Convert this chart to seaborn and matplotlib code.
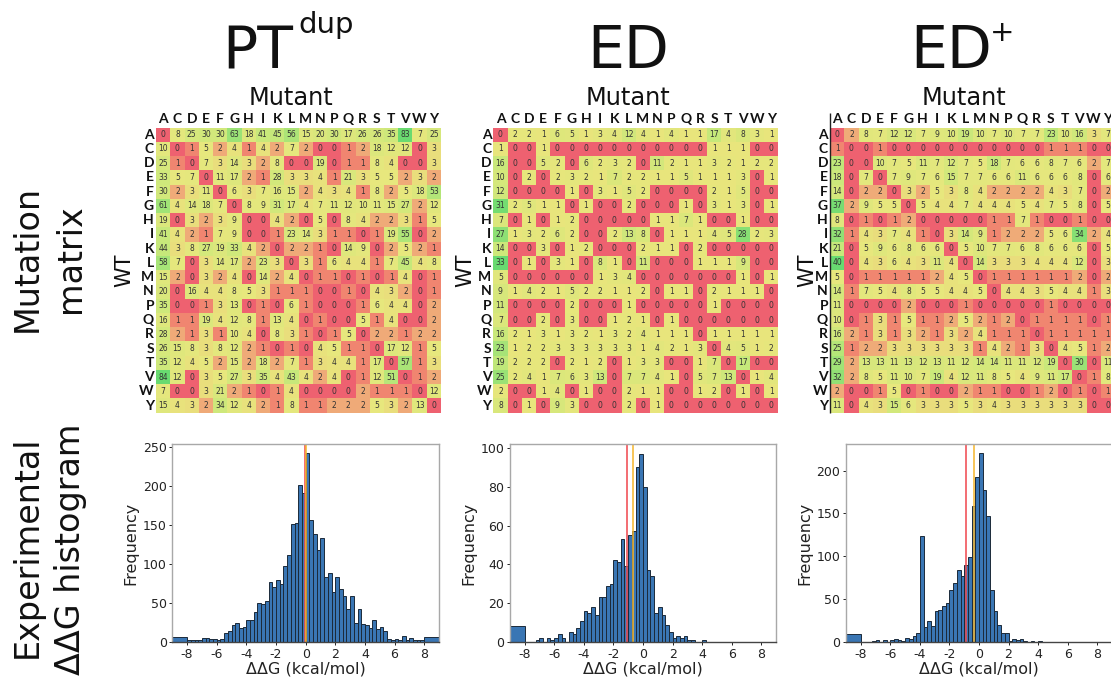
import numpy as np
import seaborn as sns
import matplotlib
matplotlib.use('Agg')
import matplotlib.pyplot as plt
from matplotlib.colors import LinearSegmentedColormap

amino = list('ACDEFGHIKLMNPQRSTVWY')

pt_matrix = [
    [0, 8, 25, 30, 30, 63, 18, 41, 45, 56, 15, 20, 30, 17, 26, 26, 35, 83, 7, 25],
    [10, 0, 1, 5, 2, 4, 1, 4, 2, 7, 2, 0, 0, 1, 2, 18, 12, 12, 0, 3],
    [25, 1, 0, 7, 3, 14, 3, 2, 8, 0, 0, 19, 0, 1, 1, 8, 4, 0, 0, 3],
    [33, 5, 7, 0, 11, 17, 2, 1, 28, 3, 3, 4, 1, 21, 3, 5, 5, 2, 3, 2],
    [30, 2, 3, 11, 0, 6, 3, 7, 16, 15, 2, 4, 3, 4, 1, 8, 2, 5, 18, 53],
    [61, 4, 14, 18, 7, 0, 8, 9, 31, 17, 4, 7, 11, 12, 10, 11, 15, 27, 2, 12],
    [19, 0, 3, 2, 3, 9, 0, 0, 4, 2, 0, 5, 0, 8, 4, 2, 2, 3, 1, 5],
    [41, 4, 2, 1, 7, 9, 0, 0, 1, 23, 14, 3, 1, 1, 0, 1, 19, 55, 0, 2],
    [44, 3, 8, 27, 19, 33, 4, 2, 0, 2, 2, 1, 0, 14, 9, 0, 2, 5, 2, 1],
    [58, 7, 0, 3, 14, 17, 2, 23, 3, 0, 3, 1, 6, 4, 4, 1, 7, 45, 4, 8],
    [15, 2, 0, 3, 2, 4, 0, 14, 2, 4, 0, 1, 1, 0, 1, 0, 1, 4, 0, 1],
    [20, 0, 16, 4, 4, 8, 5, 3, 1, 1, 1, 0, 0, 1, 0, 4, 3, 2, 0, 1],
    [35, 0, 0, 1, 3, 13, 0, 1, 0, 6, 1, 0, 0, 0, 1, 6, 4, 4, 0, 2],
    [16, 1, 1, 19, 4, 12, 8, 1, 13, 4, 0, 1, 0, 0, 5, 1, 4, 0, 0, 2],
    [28, 2, 1, 3, 1, 10, 4, 0, 8, 3, 1, 0, 1, 5, 0, 2, 2, 1, 2, 2],
    [26, 15, 8, 3, 8, 12, 2, 1, 0, 1, 0, 4, 5, 1, 1, 0, 17, 12, 1, 5],
    [35, 12, 4, 5, 2, 15, 2, 18, 2, 7, 1, 3, 4, 4, 1, 17, 0, 57, 1, 3],
    [84, 12, 0, 3, 5, 27, 3, 35, 4, 43, 4, 2, 4, 0, 1, 12, 51, 0, 1, 2],
    [7, 0, 0, 3, 21, 2, 1, 0, 1, 4, 0, 0, 0, 0, 2, 1, 1, 1, 0, 12],
    [15, 4, 3, 2, 34, 12, 4, 2, 1, 8, 1, 1, 2, 2, 2, 5, 3, 2, 13, 0],
]

ed_matrix = [
    [0, 2, 2, 1, 6, 5, 1, 3, 4, 12, 4, 1, 4, 1, 1, 17, 4, 8, 3, 1],
    [1, 0, 0, 1, 0, 0, 0, 0, 0, 0, 0, 0, 0, 0, 0, 1, 1, 1, 0, 0],
    [16, 0, 0, 5, 2, 0, 6, 2, 3, 2, 0, 11, 2, 1, 1, 3, 2, 1, 2, 2],
    [10, 0, 2, 0, 2, 3, 2, 1, 7, 2, 2, 1, 1, 5, 1, 1, 1, 3, 0, 1],
    [12, 0, 0, 0, 0, 1, 0, 3, 1, 5, 2, 0, 0, 0, 0, 2, 1, 5, 0, 0],
    [31, 2, 5, 1, 1, 0, 1, 0, 0, 2, 0, 0, 0, 1, 0, 3, 1, 3, 0, 1],
    [7, 0, 1, 0, 1, 2, 0, 0, 0, 0, 0, 1, 1, 7, 1, 0, 0, 1, 0, 0],
    [27, 1, 3, 2, 6, 2, 0, 0, 2, 13, 8, 0, 1, 1, 1, 4, 5, 28, 2, 3],
    [14, 0, 0, 3, 0, 1, 2, 0, 0, 0, 2, 1, 1, 0, 2, 0, 0, 0, 0, 0],
    [33, 0, 1, 0, 3, 1, 0, 8, 1, 0, 11, 0, 0, 0, 1, 1, 1, 9, 0, 0],
    [5, 0, 0, 0, 0, 0, 0, 1, 3, 4, 0, 0, 0, 0, 0, 0, 0, 1, 0, 1],
    [9, 1, 4, 2, 1, 5, 2, 2, 1, 1, 2, 0, 1, 1, 0, 2, 1, 1, 1, 0],
    [11, 0, 0, 0, 0, 2, 0, 0, 0, 1, 0, 0, 0, 0, 0, 1, 0, 0, 0, 0],
    [7, 0, 0, 2, 0, 3, 0, 0, 1, 2, 1, 0, 1, 0, 0, 0, 0, 0, 0, 0],
    [16, 2, 1, 3, 1, 3, 2, 1, 3, 2, 4, 1, 1, 1, 0, 1, 1, 1, 1, 1],
    [23, 1, 2, 2, 3, 3, 3, 3, 3, 3, 1, 4, 2, 1, 3, 0, 4, 5, 1, 2],
    [19, 2, 2, 2, 0, 2, 1, 2, 0, 1, 3, 3, 0, 0, 1, 7, 0, 17, 0, 0],
    [25, 2, 4, 1, 7, 6, 3, 13, 0, 7, 7, 4, 1, 0, 5, 7, 13, 0, 1, 4],
    [2, 0, 0, 1, 4, 0, 1, 0, 0, 2, 1, 1, 0, 0, 1, 2, 0, 1, 0, 1],
    [8, 0, 1, 0, 9, 3, 0, 0, 0, 2, 0, 1, 0, 0, 0, 0, 0, 0, 0, 0],
]

edplus_matrix = [
    [0, 2, 8, 7, 12, 12, 7, 9, 10, 19, 10, 7, 10, 7, 7, 23, 10, 16, 3, 7],
    [1, 0, 0, 1, 0, 0, 0, 0, 0, 0, 0, 0, 0, 0, 0, 1, 1, 1, 0, 0],
    [23, 0, 0, 10, 7, 5, 11, 7, 12, 7, 5, 18, 7, 6, 6, 8, 7, 6, 2, 7],
    [18, 0, 7, 0, 7, 9, 7, 6, 15, 7, 7, 6, 6, 11, 6, 6, 6, 8, 0, 6],
    [14, 0, 2, 2, 0, 3, 2, 5, 3, 8, 4, 2, 2, 2, 2, 4, 3, 7, 0, 2],
    [37, 2, 9, 5, 5, 0, 5, 4, 4, 7, 4, 4, 4, 5, 4, 7, 5, 8, 0, 5],
    [8, 0, 1, 0, 1, 2, 0, 0, 0, 0, 0, 1, 1, 7, 1, 0, 0, 1, 0, 0],
    [32, 1, 4, 3, 7, 4, 1, 0, 3, 14, 9, 1, 2, 2, 2, 5, 6, 34, 2, 4],
    [21, 0, 5, 9, 6, 8, 6, 6, 0, 5, 10, 7, 7, 6, 8, 6, 6, 6, 0, 5],
    [40, 0, 4, 3, 6, 4, 3, 11, 4, 0, 14, 3, 3, 3, 4, 4, 4, 12, 0, 3],
    [5, 0, 1, 1, 1, 1, 1, 2, 4, 5, 0, 1, 1, 1, 1, 1, 1, 2, 0, 2],
    [14, 1, 7, 5, 4, 8, 5, 5, 4, 4, 5, 0, 4, 4, 3, 5, 4, 4, 1, 3],
    [11, 0, 0, 0, 0, 2, 0, 0, 0, 1, 0, 0, 0, 0, 0, 1, 0, 0, 0, 0],
    [10, 0, 1, 3, 1, 5, 1, 1, 2, 5, 2, 1, 2, 0, 1, 1, 1, 1, 0, 1],
    [16, 2, 1, 3, 1, 3, 2, 1, 3, 2, 4, 1, 1, 1, 0, 1, 1, 1, 1, 1],
    [25, 1, 2, 2, 3, 3, 3, 3, 3, 3, 1, 4, 2, 1, 3, 0, 4, 5, 1, 2],
    [29, 2, 13, 13, 11, 13, 12, 13, 11, 12, 14, 14, 11, 11, 12, 19, 0, 30, 0, 11],
    [32, 2, 8, 5, 11, 10, 7, 19, 4, 12, 11, 8, 5, 4, 9, 11, 17, 0, 1, 8],
    [2, 0, 0, 1, 5, 0, 1, 0, 0, 2, 1, 1, 0, 0, 1, 2, 0, 1, 0, 1],
    [11, 0, 4, 3, 15, 6, 3, 3, 3, 5, 3, 4, 3, 3, 3, 3, 3, 3, 0, 0],
]

# counts: first and last value are the wide -9..-8 and 8..9 bins, rest are 0.25 wide
pt_counts = [7,
             2, 2, 3, 3, 5, 5, 4, 4, 3, 4, 12, 14, 22, 24, 18, 19,
             28, 28, 39, 50, 49, 53, 77, 70, 79, 74, 97, 112, 152, 153, 202, 191,
             242, 157, 139, 118, 134, 83, 89, 64, 84, 68, 59, 42, 59, 25, 42, 23,
             22, 18, 28, 17, 19, 14, 4, 2, 4, 2, 8, 3, 5, 2, 2, 2,
             7]
ed_counts = [8,
             0, 0, 0, 1, 2, 0, 2, 1, 2, 4, 2, 0, 5, 4, 7, 11,
             16, 15, 18, 14, 23, 23, 29, 30, 42, 41, 53, 39, 55, 57, 90, 97,
             80, 37, 34, 15, 18, 14, 9, 5, 2, 3, 2, 3, 1, 1, 0, 0,
             1, 0, 0, 0, 0, 0, 0, 0, 0, 0, 0, 0, 0, 0, 0, 0,
             0]
edplus_counts = [9,
                 0, 0, 0, 1, 2, 0, 2, 0, 2, 4, 2, 1, 5, 4, 7, 11,
                 124, 17, 24, 19, 36, 37, 42, 45, 61, 69, 84, 77, 90, 99, 159, 193,
                 220, 177, 147, 61, 36, 20, 10, 10, 1, 3, 2, 3, 1, 0, 1, 0,
                 1, 0, 0, 0, 0, 0, 0, 0, 0, 0, 0, 0, 0, 0, 0, 0,
                 0]

pt_lines = [-0.05, 0.0]
ed_lines = [-1.11, -0.68]
edplus_lines = [-0.86, -0.34]

pt_ymax = 254
ed_ymax = 102
edplus_ymax = 231

RED = '#ee6170'
low_anchors = [(0, RED), (1, '#f08670'), (2, '#efab78'), (3, '#e9de7c'), (5, '#e7e77d')]
ed_anchors = [(0, RED), (0.9, '#ee6170'), (1, '#e8e67c')]

W, H = 1111, 680
sns.set_style('white')
plt.rcParams['font.family'] = ['DejaVu Sans']
plt.rcParams['axes.unicode_minus'] = False
fig = plt.figure(figsize=(W / 100, H / 100), dpi=100)


def px_axes(left, top, right, bottom):
    return fig.add_axes([left / W, 1 - bottom / H, (right - left) / W, (bottom - top) / H])


def px_text(x, y, s, **kw):
    kw.setdefault('ha', 'center')
    kw.setdefault('va', 'baseline')
    kw.setdefault('color', '#111111')
    kw.setdefault('rotation_mode', 'anchor')
    fig.text(x / W, 1 - y / H, s, **kw)


def make_cmap(anchors, vmax):
    stops = [(v / vmax, c) for v, c in anchors]
    stops.append((0.55, '#c4e87a'))
    stops.append((1, '#68da70'))
    return LinearSegmentedColormap.from_list('mut', stops, N=2048)


def draw_matrix(matrix, anchors, left):
    ax = px_axes(left, 127.5, left + 285, 412.7)
    values = np.array(matrix)
    sns.heatmap(values, ax=ax, cmap=make_cmap(anchors, values.max()), vmin=0, vmax=values.max(),
                annot=True, fmt='d', cbar=False, square=False,
                annot_kws={'fontsize': 5.5, 'color': '#333333'},
                xticklabels=amino, yticklabels=amino)
    ax.xaxis.tick_top()
    ax.tick_params(length=0, pad=1.5)
    plt.setp(ax.get_xticklabels(), rotation=0, family='Lato', fontweight='bold', fontsize=10, color='#111111')
    plt.setp(ax.get_yticklabels(), rotation=0, family='Lato', fontweight='bold', fontsize=10, color='#111111')
    return ax


def draw_hist(counts, vlines, ymax, left, right, ytick_step):
    ax = px_axes(left, 444, right, 642)
    edges = np.concatenate([[-9], np.arange(-8, 8.25, 0.25), [9]])
    centers = (edges[:-1] + edges[1:]) / 2
    sns.histplot(x=centers, weights=counts, bins=edges.tolist(), ax=ax, color='#2f6fb0', alpha=0.95,
                 edgecolor='#1c2a3a', linewidth=0.7)
    ax.axvline(vlines[0], color='#f0484e', lw=1.4, alpha=0.8)
    ax.axvline(vlines[1], color='#f5b62e', lw=1.4, alpha=0.8)
    ax.set_xlim(-9, 9)
    ax.set_ylim(0, ymax)
    ax.set_xticks(np.arange(-8, 9, 2))
    ax.set_yticks(np.arange(0, ymax, ytick_step))
    ax.tick_params(labelsize=9, length=2, width=0.7, pad=2, colors='#222222', bottom=True, left=True)
    ax.set_xlabel('ΔΔG (kcal/mol)', fontsize=11.5, color='#222222', labelpad=1)
    ax.set_ylabel('Frequency', fontsize=11.5, color='#222222', labelpad=3)
    for name, spine in ax.spines.items():
        spine.set_color('#a8a8a8' if name in ('top', 'right', 'left') else '#444444')
        spine.set_linewidth(1)
    return ax


draw_matrix(pt_matrix, low_anchors, 156)
draw_matrix(ed_matrix, ed_anchors, 493.3)
ax3 = draw_matrix(edplus_matrix, low_anchors, 830)
ax3.vlines(0, -1.0, 20, color='#222222', lw=1, clip_on=False)

draw_hist(pt_counts, pt_lines, pt_ymax, 172.3, 439, 50)
draw_hist(ed_counts, ed_lines, ed_ymax, 509.7, 776.3, 20)
draw_hist(edplus_counts, edplus_lines, edplus_ymax, 846, 1112, 50)

# titles
px_text(258, 68, 'PT', fontsize=42)
px_text(298, 33, 'dup', fontsize=21, ha='left')
px_text(628, 68, 'ED', fontsize=42)
px_text(951, 68, 'ED', fontsize=42)
px_text(1002.5, 41, '+', fontsize=21)

for x in (291, 628, 964):
    px_text(x, 105, 'Mutant', fontsize=17.3)
for x in (130, 471, 813):
    px_text(x, 270, 'WT', fontsize=15, rotation=90)

px_text(37, 258, 'Mutation', fontsize=24, rotation=90)
px_text(80, 259, 'matrix', fontsize=24, rotation=90)
px_text(37, 547, 'Experimental', fontsize=24, rotation=90)
px_text(80, 549, 'ΔΔG histogram', fontsize=24, rotation=90)

fig.savefig('out.png', dpi=100)
